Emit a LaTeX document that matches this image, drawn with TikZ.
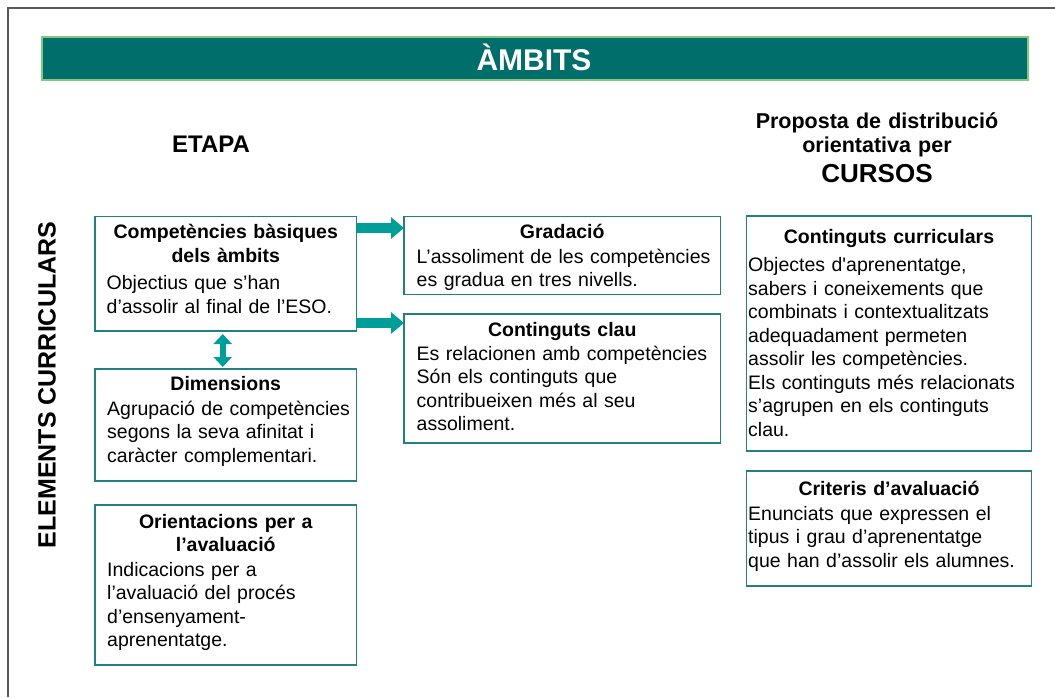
\documentclass[tikz,border=0pt]{standalone}
\usepackage{fontspec}
\setmainfont{Liberation Sans}
\usetikzlibrary{arrows.meta}

\definecolor{verdfosc}{RGB}{0,110,106}
\definecolor{verdclar}{RGB}{130,200,125}
\definecolor{vora}{RGB}{35,128,128}
\definecolor{fletxa}{RGB}{0,158,152}
\definecolor{marcgris}{RGB}{90,90,90}

\tikzset{
  caixa/.style={draw=vora, line width=1.8pt, anchor=north west, outer sep=0pt, inner sep=0pt},
  capcal/.style={anchor=base, inner sep=0pt, text width=280pt, align=center,
    font=\fontsize{19.5}{23.5}\selectfont\bfseries},
  cos/.style={anchor=base west, inner sep=0pt, text width=300pt, align=left,
    font=\fontsize{19.5}{23.5}\selectfont},
  fletxa gruixuda/.style={draw=fletxa, line width=10pt, -{Triangle[length=13pt,width=21pt]}},
  fletxa doble/.style={draw=fletxa, line width=6pt,
    {Triangle[length=10pt,width=18pt]}-{Triangle[length=10pt,width=18pt]},
    shorten <=3pt, shorten >=2pt}
}

\begin{document}
\begin{tikzpicture}[x=1pt, y=-1pt]
  \useasboundingbox (0,0) rectangle (1055,697);
  \draw[marcgris, line width=1.5pt] (8,697) -- (8,8) -- (1055,8);  % frame

  % title bar
  \node[draw=verdclar, line width=1.5pt, fill=verdfosc, anchor=north west, outer sep=0pt,
    minimum width=986pt, minimum height=43pt] (ambits) at (42,37) {};
  \node[text=white, anchor=base, inner sep=0pt,
    font=\fontsize{30}{32}\selectfont\bfseries] (ambits-text) at (534,70) {ÀMBITS};

  % column titles
  \node[font=\fontsize{24}{26}\selectfont\bfseries, anchor=base, inner sep=0pt] (etapa) at (211,152.7) {ETAPA};
  \node[font=\fontsize{21.5}{24}\selectfont\bfseries, anchor=base, inner sep=0pt,
    text width=280pt, align=center] (proposta) at (877,128) {Proposta de distribució\\orientativa per};
  \node[font=\fontsize{26}{30}\selectfont\bfseries, anchor=base, inner sep=0pt] (cursos) at (877,182) {CURSOS};
  \node[font=\fontsize{25}{28}\selectfont\bfseries, rotate=90] (elements) at (47,385) {ELEMENTS CURRICULARS};

  % boxes: ETAPA
  \node[caixa, minimum width=261.5pt, minimum height=114.5pt] (comp) at (95,216.5) {};
  \node[capcal] (comp-cap) at ([yshift=-22pt]comp.north) {Competències bàsiques\\dels àmbits};
  \node[cos] (comp-cos) at ([xshift=11.5pt, yshift=-73pt]comp.north west) {Objectius que s’han\\d’assolir al final de l’ESO.};

  \node[caixa, minimum width=261.5pt, minimum height=112pt] (dim) at (95,369) {};
  \node[capcal] (dim-cap) at ([yshift=-21.7pt]dim.north) {Dimensions};
  \node[cos] (dim-cos) at ([xshift=12pt, yshift=-46pt]dim.north west) {Agrupació de competències\\segons la seva afinitat i\\caràcter complementari.};

  \node[caixa, minimum width=261.5pt, minimum height=160pt] (orient) at (95,505) {};
  \node[capcal] (orient-cap) at ([yshift=-23pt]orient.north) {Orientacions per a\\l’avaluació};
  \node[cos] (orient-cos) at ([xshift=12pt, yshift=-71pt]orient.north west) {Indicacions per a\\l’avaluació del procés\\d’ensenyament-\\aprenentatge.};

  \node[caixa, minimum width=316.5pt, minimum height=78pt] (grad) at (404,216.5) {};
  \node[capcal] (grad-cap) at ([yshift=-21.5pt]grad.north) {Gradació};
  \node[cos] (grad-cos) at ([xshift=12.5pt, yshift=-46.5pt]grad.north west) {L’assoliment de les competències\\es gradua en tres nivells.};

  \node[caixa, minimum width=316.5pt, minimum height=129pt] (clau) at (404,314) {};
  \node[capcal] (clau-cap) at ([yshift=-22pt]clau.north) {Continguts clau};
  \node[cos] (clau-cos) at ([xshift=12.5pt, yshift=-46pt]clau.north west) {Es relacionen amb competències\\Són els continguts que\\contribueixen més al seu\\assoliment.};

  % boxes: CURSOS
  \node[caixa, minimum width=285pt, minimum height=235pt] (curr) at (746.5,216) {};
  \node[capcal] (curr-cap) at ([yshift=-27pt]curr.north) {Continguts curriculars};
  \node[cos] (curr-cos) at ([xshift=1.5pt, yshift=-55.7pt]curr.north west) {Objectes d\textquotesingle aprenentatge,\\sabers i coneixements que\\combinats i contextualitzats\\adequadament permeten\\assolir les competències.\\Els continguts més relacionats\\s’agrupen en els continguts\\clau.};

  \node[caixa, minimum width=285pt, minimum height=115pt] (crit) at (746.5,471) {};
  \node[capcal] (crit-cap) at ([yshift=-24.3pt]crit.north) {Criteris d’avaluació};
  \node[cos] (crit-cos) at ([xshift=1.5pt, yshift=-49.3pt]crit.north west) {Enunciats que expressen el\\tipus i grau d’aprenentatge\\que han d’assolir els alumnes.};

  % arrows
  \coordinate (a1) at ([yshift=-11.5pt]comp.north east);
  \coordinate (a2) at ([yshift=8pt]comp.south east);
  \draw[fletxa gruixuda] (a1) -- (a1 -| grad.west);
  \draw[fletxa gruixuda] (a2) -- (a2 -| clau.west);
  \draw[fletxa doble] ([xshift=-3pt]comp.south) -- ([xshift=-3pt]dim.north);
\end{tikzpicture}
\end{document}
